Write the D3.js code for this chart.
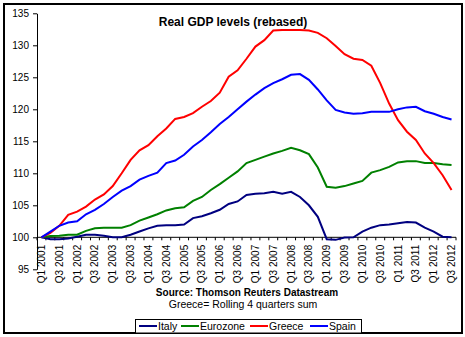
<!DOCTYPE html>
<meta charset="utf-8">
<style>
body { margin: 0; }
text { font-family: "Liberation Sans", Arial, sans-serif; fill: black; }
.axis path, .axis line { stroke: black; stroke-width: 1; }
</style>
<script src="https://cdn.jsdelivr.net/npm/d3@7"></script>
<body>
<script>
// quarters Q1 2001 .. Q3 2012
const quarters = [];
for (let y = 2001; y <= 2012; y++) {
  for (let q = 1; q <= 4; q++) {
    if (y === 2012 && q === 4) break;
    quarters.push(`Q${q} ${y}`);
  }
}

const italy = [100, 99.7, 99.7, 99.8, 100.1, 100.4, 100.4, 100.25, 100, 100, 100.4, 100.9,
  101.4, 101.8, 101.9, 101.9, 102.0, 103.0, 103.3, 103.75, 104.3, 105.2, 105.6, 106.6,
  106.8, 106.9, 107.1, 106.8, 107.1, 106.3, 105.0, 103.2, 99.7, 99.6, 99.95, 100.0,
  100.9, 101.5, 101.9, 102.0, 102.2, 102.4, 102.3, 101.5, 100.9, 100.1, 100.0];

const eurozone = [100, 100.2, 100.25, 100.4, 100.4, 101.0, 101.4, 101.5, 101.5, 101.5, 101.9, 102.6,
  103.1, 103.6, 104.2, 104.55, 104.7, 105.7, 106.3, 107.4, 108.3, 109.3, 110.3, 111.6,
  112.1, 112.6, 113.1, 113.5, 114.0, 113.6, 113.0, 110.9, 107.9, 107.75, 108.0, 108.4,
  108.8, 110.1, 110.5, 111.0, 111.7, 111.9, 111.9, 111.6, 111.6, 111.4, 111.3];

const greece = [100, 100.7, 101.8, 103.5, 104.0, 104.8, 105.9, 106.7, 108.0, 110.0, 112.1, 113.6,
  114.4, 115.8, 117.0, 118.5, 118.8, 119.4, 120.4, 121.3, 122.6, 125.1, 126.1, 127.9,
  129.8, 130.8, 132.3, 132.4, 132.4, 132.4, 132.3, 131.95, 131.1, 129.9, 128.6, 127.9,
  127.7, 126.8, 124.1, 120.9, 118.3, 116.5, 115.2, 113.1, 111.6, 109.7, 107.4];

const spain = [100, 100.9, 101.8, 102.3, 102.5, 103.6, 104.3, 105.2, 106.3, 107.3, 108.0, 109.0,
  109.6, 110.1, 111.6, 112.0, 112.9, 114.2, 115.2, 116.4, 117.7, 118.8, 120.0, 121.2,
  122.3, 123.3, 124.1, 124.7, 125.4, 125.5, 124.6, 123.1, 121.4, 119.9, 119.5, 119.3,
  119.4, 119.6, 119.6, 119.6, 120.0, 120.3, 120.4, 119.7, 119.3, 118.8, 118.4];

const seriesNames = ['Italy', 'Eurozone', 'Greece', 'Spain'];
const seriesColors = ['#000080', '#008000', '#ff0000', '#0000ff'];
const seriesValues = [italy, eurozone, greece, spain];

const yTicks = [95, 100, 105, 110, 115, 120, 125, 130, 135];

const title = 'Real GDP levels (rebased)';
const source = 'Source: Thomson Reuters Datastream';
const note = 'Greece= Rolling 4 quarters sum';

const W = 465, H = 337;
const plot = { left: 37, right: 456, top: 13.3, bottom: 269.3 };

const svg = d3.select('body')
  .append('svg')
    .attr('width', W)
    .attr('height', H);

svg.append('rect')
  .attr('width', W).attr('height', H)
  .attr('fill', 'white');

// outer border
svg.append('rect')
  .attr('x', 4).attr('y', 4)
  .attr('width', 458).attr('height', 329)
  .attr('fill', 'none')
  .attr('stroke', 'black')
  .attr('stroke-width', 2);

const xScale = d3.scaleBand()
  .domain(quarters)
  .range([plot.left, plot.right])
  .padding(0);

const yScale = d3.scaleLinear()
  .domain([95, 135])
  .range([plot.bottom, plot.top]);

// y axis
svg.append('g')
    .attr('class', 'axis')
    .attr('transform', `translate(${plot.left}, 0)`)
  .call(d3.axisLeft(yScale).tickValues(yTicks).tickSize(4).tickSizeOuter(0).tickPadding(4))
  .selectAll('text')
    .style('font-size', '10px');

// x axis crosses at 100
const y100 = yScale(100);
const xAxis = svg.append('g')
  .attr('class', 'axis')
  .attr('transform', `translate(0, ${y100})`);

xAxis.append('line')
  .attr('x1', plot.left).attr('x2', plot.right)
  .attr('y1', 0).attr('y2', 0);

const boundaries = quarters.map(q => xScale(q)).concat([plot.right]);
xAxis.selectAll('.qtick')
  .data(boundaries)
  .enter()
  .append('line')
    .attr('x1', d => d).attr('x2', d => d)
    .attr('y1', 0).attr('y2', 3);

xAxis.selectAll('.qlabel')
  .data(quarters.filter((q, i) => i % 2 === 0))
  .enter()
  .append('text')
    .attr('transform', d => `translate(${xScale(d) + xScale.bandwidth() / 2 + 3.5}, 7.5) rotate(-90)`)
    .attr('text-anchor', 'end')
    .style('font-size', '10px')
    .text(d => d);

// lines
const line = d3.line()
  .x((d, i) => xScale(quarters[i]) + xScale.bandwidth() / 2)
  .y(d => yScale(d));

svg.selectAll('.series')
  .data(seriesValues)
  .enter()
  .append('path')
    .attr('fill', 'none')
    .attr('stroke', (d, i) => seriesColors[i])
    .attr('stroke-width', 2)
    .attr('d', d => line(d));

// texts
svg.append('text')
  .attr('x', 233).attr('y', 26)
  .attr('text-anchor', 'middle')
  .style('font-size', '12px')
  .style('font-weight', 'bold')
  .text(title);

svg.append('text')
  .attr('x', 247).attr('y', 296)
  .attr('text-anchor', 'middle')
  .style('font-size', '10px')
  .style('font-weight', 'bold')
  .text(source);

svg.append('text')
  .attr('x', 243).attr('y', 308)
  .attr('text-anchor', 'middle')
  .style('font-size', '10.5px')
  .text(note);

// legend
const legend = svg.append('g');
legend.append('rect')
  .attr('x', 135.5).attr('y', 319.5)
  .attr('width', 226).attr('height', 13.5)
  .attr('fill', 'white')
  .attr('stroke', 'black')
  .attr('stroke-width', 1);

const legendX = [139, 181, 250, 310];
seriesNames.forEach((name, i) => {
  legend.append('line')
    .attr('x1', legendX[i]).attr('x2', legendX[i] + 18)
    .attr('y1', 326).attr('y2', 326)
    .attr('stroke', seriesColors[i])
    .attr('stroke-width', 2);
  legend.append('text')
    .attr('x', legendX[i] + 19).attr('y', 330)
    .style('font-size', '10.5px')
    .text(name);
});
</script>
</body>
</html>
